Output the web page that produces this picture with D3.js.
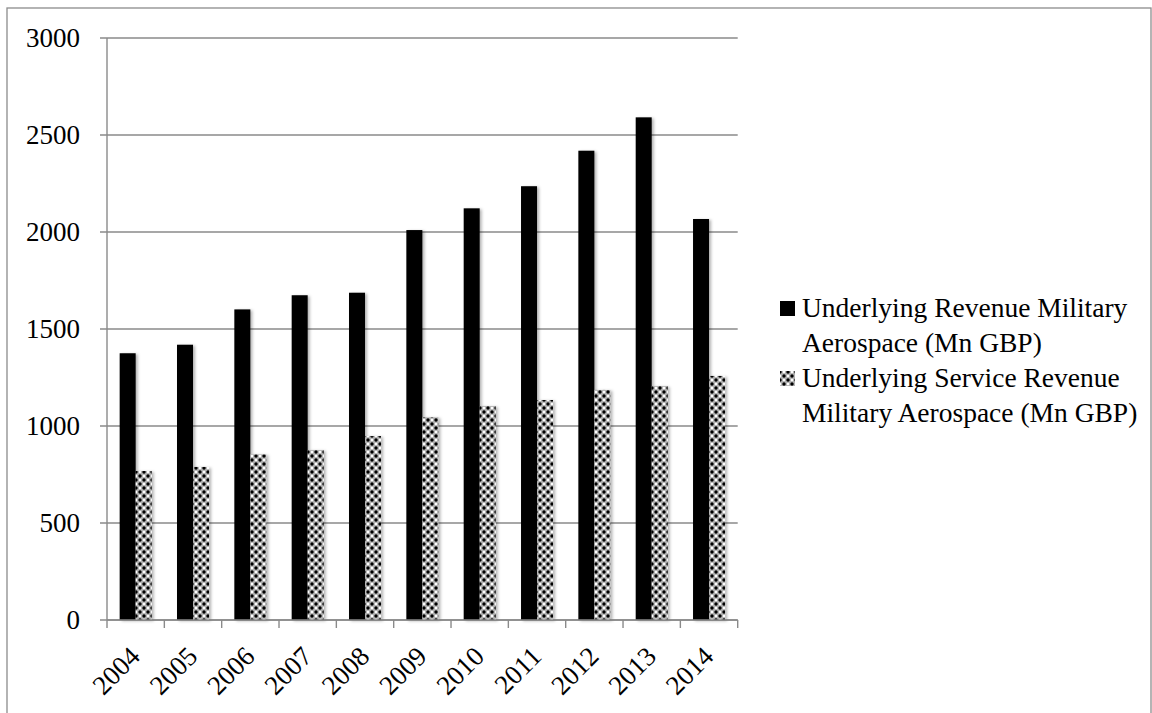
<!DOCTYPE html>
<html>
<head>
<meta charset="utf-8">
<script src="https://cdn.jsdelivr.net/npm/d3@7"></script>
<style>
  body { margin: 0; background: #fff; }
  text { font-family: "Liberation Serif", "Times New Roman", serif; fill: #000; }
</style>
</head>
<body>
<svg id="chart" width="1152" height="713"></svg>
<script>
// Military aerospace revenue, 2004-2014 (Mn GBP)
var years = ["2004", "2005", "2006", "2007", "2008", "2009", "2010", "2011", "2012", "2013", "2014"];
var underlyingRevenue = [1375, 1419, 1601, 1674, 1687, 2010, 2122, 2236, 2419, 2591, 2067];
var serviceRevenue = [768, 789, 854, 876, 948, 1045, 1103, 1134, 1186, 1206, 1258];
var legendLines = [["Underlying Revenue Military", "Aerospace (Mn GBP)"], ["Underlying Service Revenue", "Military Aerospace (Mn GBP)"]];
var yTicks = [0, 500, 1000, 1500, 2000, 2500, 3000];

var svg = d3.select("#chart");
var plotLeft = 107, plotRight = 737.7, plotTop = 38, plotBottom = 620;

// defs: checker pattern and soft shadow
var defs = svg.append("defs");
var pat = defs.append("pattern")
    .attr("id", "checker")
    .attr("patternUnits", "userSpaceOnUse")
    .attr("width", 8).attr("height", 8);
pat.append("rect").attr("width", 8).attr("height", 8).attr("fill", "#b4b4b4");
[[0, 0], [8, 0], [0, 8], [8, 8], [4, 4]].forEach(function (p) {
    pat.append("circle").attr("cx", p[0]).attr("cy", p[1]).attr("r", 1.7).attr("fill", "#000");
});
[[4, 0], [0, 4], [8, 4], [4, 8]].forEach(function (p) {
    pat.append("circle").attr("cx", p[0]).attr("cy", p[1]).attr("r", 1.2).attr("fill", "#fff");
});
var shadow = defs.append("filter").attr("id", "shadow")
    .attr("x", "-30%").attr("y", "-5%").attr("width", "160%").attr("height", "110%");
shadow.append("feDropShadow").attr("dx", 2).attr("dy", 1).attr("stdDeviation", 1.6)
    .attr("flood-color", "#000").attr("flood-opacity", 0.3);

// outer frame
svg.append("rect")
    .attr("x", 7).attr("y", 8).attr("width", 1144).attr("height", 720)
    .attr("fill", "none").attr("stroke", "#8c8c8c").attr("stroke-width", 1.3);

var x = d3.scaleBand().domain(years).range([plotLeft, plotRight]).padding(0);
var bw = x.bandwidth();
var xs = d3.scaleBand().domain([0, 1]).range([bw / 2 - 16, bw / 2 + 16]);
var y = d3.scaleLinear().domain([0, 3000]).range([plotBottom, plotTop]);

// gridlines + y tick labels
svg.append("g")
    .selectAll("line")
    .data(yTicks)
    .join("line")
    .attr("x1", plotLeft - 7).attr("x2", plotRight)
    .attr("y1", function (d) { return y(d); }).attr("y2", function (d) { return y(d); })
    .attr("stroke", "#8a8a8a").attr("stroke-width", 1.4);

svg.append("g")
    .selectAll("text")
    .data(yTicks)
    .join("text")
    .attr("x", 80)
    .attr("y", function (d) { return y(d) + 9; })
    .attr("text-anchor", "end")
    .attr("font-size", 27)
    .text(function (d) { return d; });

// bars
var values = [underlyingRevenue, serviceRevenue];
var fills = ["#000", "url(#checker)"];
values.forEach(function (vals, s) {
    svg.append("g")
        .selectAll("rect")
        .data(years)
        .join("rect")
        .attr("x", function (d) { return x(d) + xs(s); })
        .attr("width", xs.bandwidth())
        .attr("y", function (d, i) { return y(vals[i]); })
        .attr("height", function (d, i) { return plotBottom - y(vals[i]); })
        .attr("fill", fills[s])
        .attr("filter", "url(#shadow)");
});

// axis lines and x ticks
svg.append("line")
    .attr("x1", plotLeft).attr("x2", plotLeft).attr("y1", plotTop).attr("y2", plotBottom)
    .attr("stroke", "#8a8a8a").attr("stroke-width", 1.4);
svg.append("line")
    .attr("x1", plotLeft).attr("x2", plotRight).attr("y1", plotBottom).attr("y2", plotBottom)
    .attr("stroke", "#8a8a8a").attr("stroke-width", 1.4);
svg.append("g")
    .selectAll("line")
    .data(years.concat(["end"]))
    .join("line")
    .attr("x1", function (d, i) { return plotLeft + i * bw; })
    .attr("x2", function (d, i) { return plotLeft + i * bw; })
    .attr("y1", plotBottom).attr("y2", plotBottom + 8)
    .attr("stroke", "#8a8a8a").attr("stroke-width", 1.4);

// x labels
svg.append("g")
    .selectAll("text")
    .data(years)
    .join("text")
    .attr("transform", function (d) {
        return "translate(" + (x(d) + bw / 2 + 6) + "," + (plotBottom + 38) + ") rotate(-45)";
    })
    .attr("text-anchor", "end")
    .attr("font-size", 27)
    .text(function (d) { return d; });

// legend
var legend = svg.append("g");
legendLines.forEach(function (lines, s) {
    var y0 = 317 + s * 70;
    legend.append("rect")
        .attr("x", 780).attr("y", y0 - 16).attr("width", 15).attr("height", 15)
        .attr("fill", fills[s]);
    lines.forEach(function (t, j) {
        legend.append("text")
            .attr("x", 802).attr("y", y0 + j * 35)
            .attr("font-size", 27.5)
            .text(t);
    });
});
</script>
</body>
</html>
